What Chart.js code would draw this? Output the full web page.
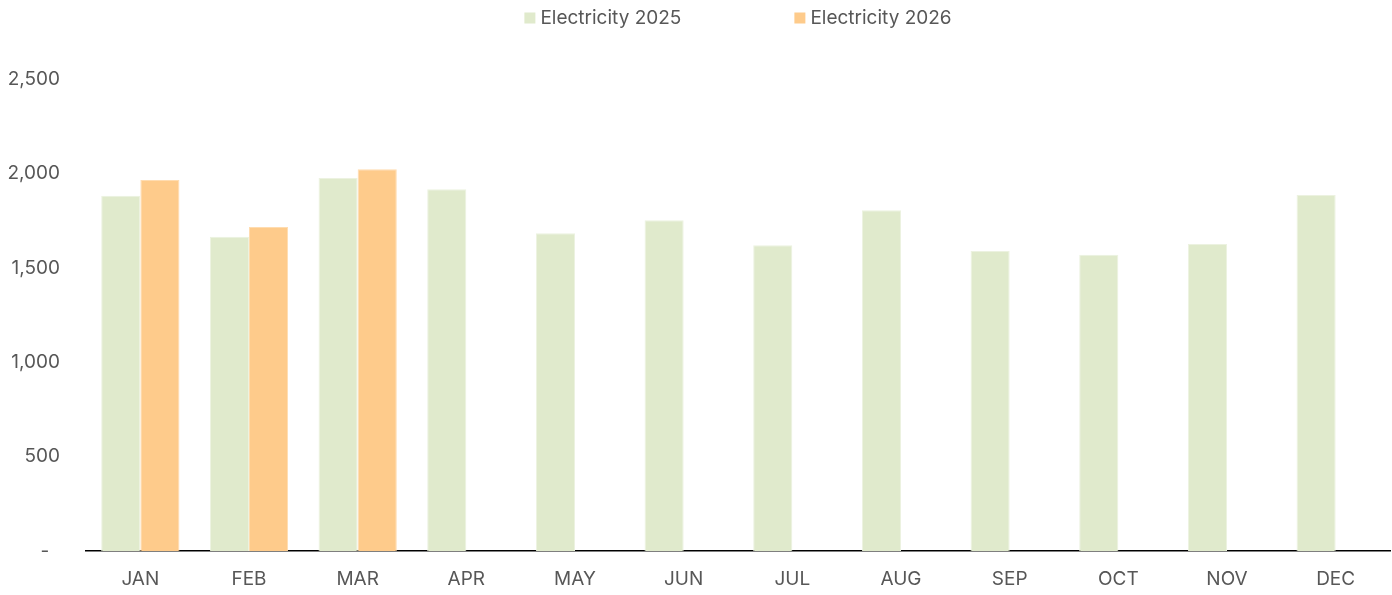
<!DOCTYPE html>
<html>
<head>
<meta charset="utf-8">
<script src="https://cdn.jsdelivr.net/npm/chart.js@4.4.1/dist/chart.umd.min.js"></script>
<style>
  html, body { margin: 0; padding: 0; background: #fff; }
  #wrap { width: 1392px; height: 595px; position: relative; }
</style>
</head>
<body>
<div id="wrap"><canvas id="chart"></canvas></div>
<script>
const months = ['JAN', 'FEB', 'MAR', 'APR', 'MAY', 'JUN', 'JUL', 'AUG', 'SEP', 'OCT', 'NOV', 'DEC']
const elec2025 = [1881, 1665, 1975, 1916, 1683, 1752, 1620, 1805, 1589, 1569, 1626, 1886]
const elec2026 = [1965, 1716, 2022, null, null, null, null, null, null, null, null, null]
const yTicks = [0, 500, 1000, 1500, 2000, 2500]

const FONT = 'Inter, Open Sans, sans-serif'
const TEXT = '#575757'

// legend drawn centred over the plot, wide gap between the two items
const topLegend = {
  id: 'topLegend',
  afterDraw(chart) {
    const ctx = chart.ctx
    const area = chart.chartArea
    const items = chart.data.datasets.map(d => ({ label: d.label, color: d.backgroundColor }))
    ctx.save()
    ctx.font = '19px ' + FONT
    const box = 11, gapText = 5, gapItem = 113
    const widths = items.map(it => box + gapText + ctx.measureText(it.label).width)
    const total = widths.reduce((a, b) => a + b, 0) + gapItem * (items.length - 1)
    let x = (area.left + area.right) / 2 - total / 2
    const y = 18
    ctx.textBaseline = 'middle'
    ctx.textAlign = 'left'
    items.forEach((it, i) => {
      ctx.fillStyle = it.color
      ctx.fillRect(x, y - box / 2, box, box)
      ctx.fillStyle = TEXT
      ctx.fillText(it.label, x + box + gapText, y)
      x += widths[i] + gapItem
    })
    ctx.restore()
  }
}

new Chart(document.getElementById('chart'), {
  type: 'bar',
  data: {
    labels: months,
    datasets: [
      { label: 'Electricity 2025', data: elec2025, backgroundColor: '#e0eacc', borderColor: '#ecf2e0', borderWidth: 1 },
      { label: 'Electricity 2026', data: elec2026, backgroundColor: '#fecb8b', borderColor: '#ffdcb0', borderWidth: 1 }
    ]
  },
  options: {
    responsive: true,
    maintainAspectRatio: false,
    animation: false,
    layout: { padding: { top: 79, right: 2, left: 0, bottom: 0 } },
    datasets: { bar: { categoryPercentage: 0.72, barPercentage: 1 } },
    plugins: { legend: { display: false }, tooltip: { enabled: false } },
    scales: {
      x: {
        grid: { display: false, drawTicks: false },
        border: { display: true, color: '#000', width: 1.5 },
        ticks: { color: TEXT, font: { family: FONT, size: 19 }, padding: 17 },
        afterFit: s => { s.height = 44 }
      },
      y: {
        min: 0,
        max: 2500,
        afterBuildTicks: s => { s.ticks = yTicks.map(v => ({ value: v })) },
        grid: { display: false, drawTicks: false },
        border: { display: false },
        ticks: {
          color: TEXT,
          font: { family: FONT, size: 19 },
          padding: 26,
          callback: v => v === 0 ? '-  ' : v.toLocaleString('en-US')
        },
        afterFit: s => { s.width = 86 }
      }
    }
  },
  plugins: [topLegend]
})
</script>
</body>
</html>
